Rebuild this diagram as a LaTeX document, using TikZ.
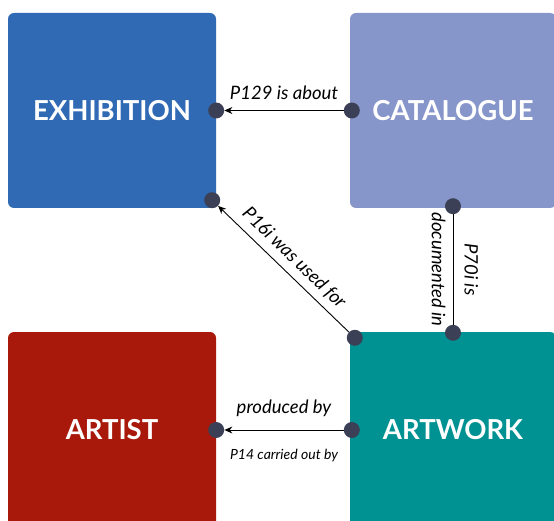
\documentclass[tikz,border=0pt]{standalone}
\usepackage{fontspec}
\setmainfont{Lato}
\usetikzlibrary{arrows.meta}
\definecolor{exhblue}{HTML}{306AB5}
\definecolor{catpurple}{HTML}{8796CA}
\definecolor{artred}{HTML}{A8190B}
\definecolor{worktea}{HTML}{009292}
\definecolor{portgray}{HTML}{3B4056}
\begin{document}
\begin{tikzpicture}[x=1pt,y=-1pt,
  entity/.style={rounded corners=6pt,text=white,inner sep=0pt,
    font=\fontsize{27.5}{32}\selectfont\bfseries},
  port/.style={circle,fill=portgray,inner sep=0pt,minimum size=16pt},
  rel/.style={line width=0.9pt,-{Stealth[length=8pt,width=7pt]}},
  lbl/.style={font=\fontsize{18.5}{21}\selectfont\itshape,inner sep=2pt}]
\clip (0,0) rectangle (554,521);
\node[entity,fill=exhblue,minimum width=208pt,minimum height=195pt] (exhibition) at (112,110.5) {EXHIBITION};
\node[entity,fill=catpurple,minimum width=206pt,minimum height=195pt] (catalogue) at (453,110.5) {CATALOGUE};
\node[entity,fill=artred,minimum width=208pt,minimum height=196pt] (artist) at (112,430) {ARTIST};
\node[entity,fill=worktea,minimum width=206pt,minimum height=196pt] (artwork) at (453,430) {ARTWORK};
\node[port] (exE) at (exhibition.east) {};
\node[port] (exSE) at ([shift={(-4,-8)}]exhibition.south east) {};
\node[port] (catW) at ([xshift=2pt]catalogue.west) {};
\node[port] (catS) at ([yshift=2pt]catalogue.south) {};
\node[port] (artE) at (artist.east) {};
\node[port] (wkW) at ([xshift=2pt]artwork.west) {};
\node[port] (wkNW) at ([shift={(5,6)}]artwork.north west) {};
\node[port] (wkN) at ([yshift=-1pt]artwork.north) {};
\draw[rel] (catW) -- node[lbl,above=8pt] {P129 is about} (exE);
\draw[rel] (wkNW) -- node[lbl,midway,sloped,above=5pt] {P16i was used for} (exSE);
\draw[line width=0.9pt] (catS) -- node[lbl,midway,rotate=-90,anchor=south,yshift=9pt] {P70i is}
  node[lbl,midway,rotate=-90,anchor=north,yshift=-5pt] {documented in} (wkN);
\draw[rel] (wkW) -- node[lbl,above=11pt] {produced by}
  node[lbl,below=17pt,font=\fontsize{14}{16}\selectfont\itshape] {P14 carried out by} (artE);
\end{tikzpicture}
\end{document}
